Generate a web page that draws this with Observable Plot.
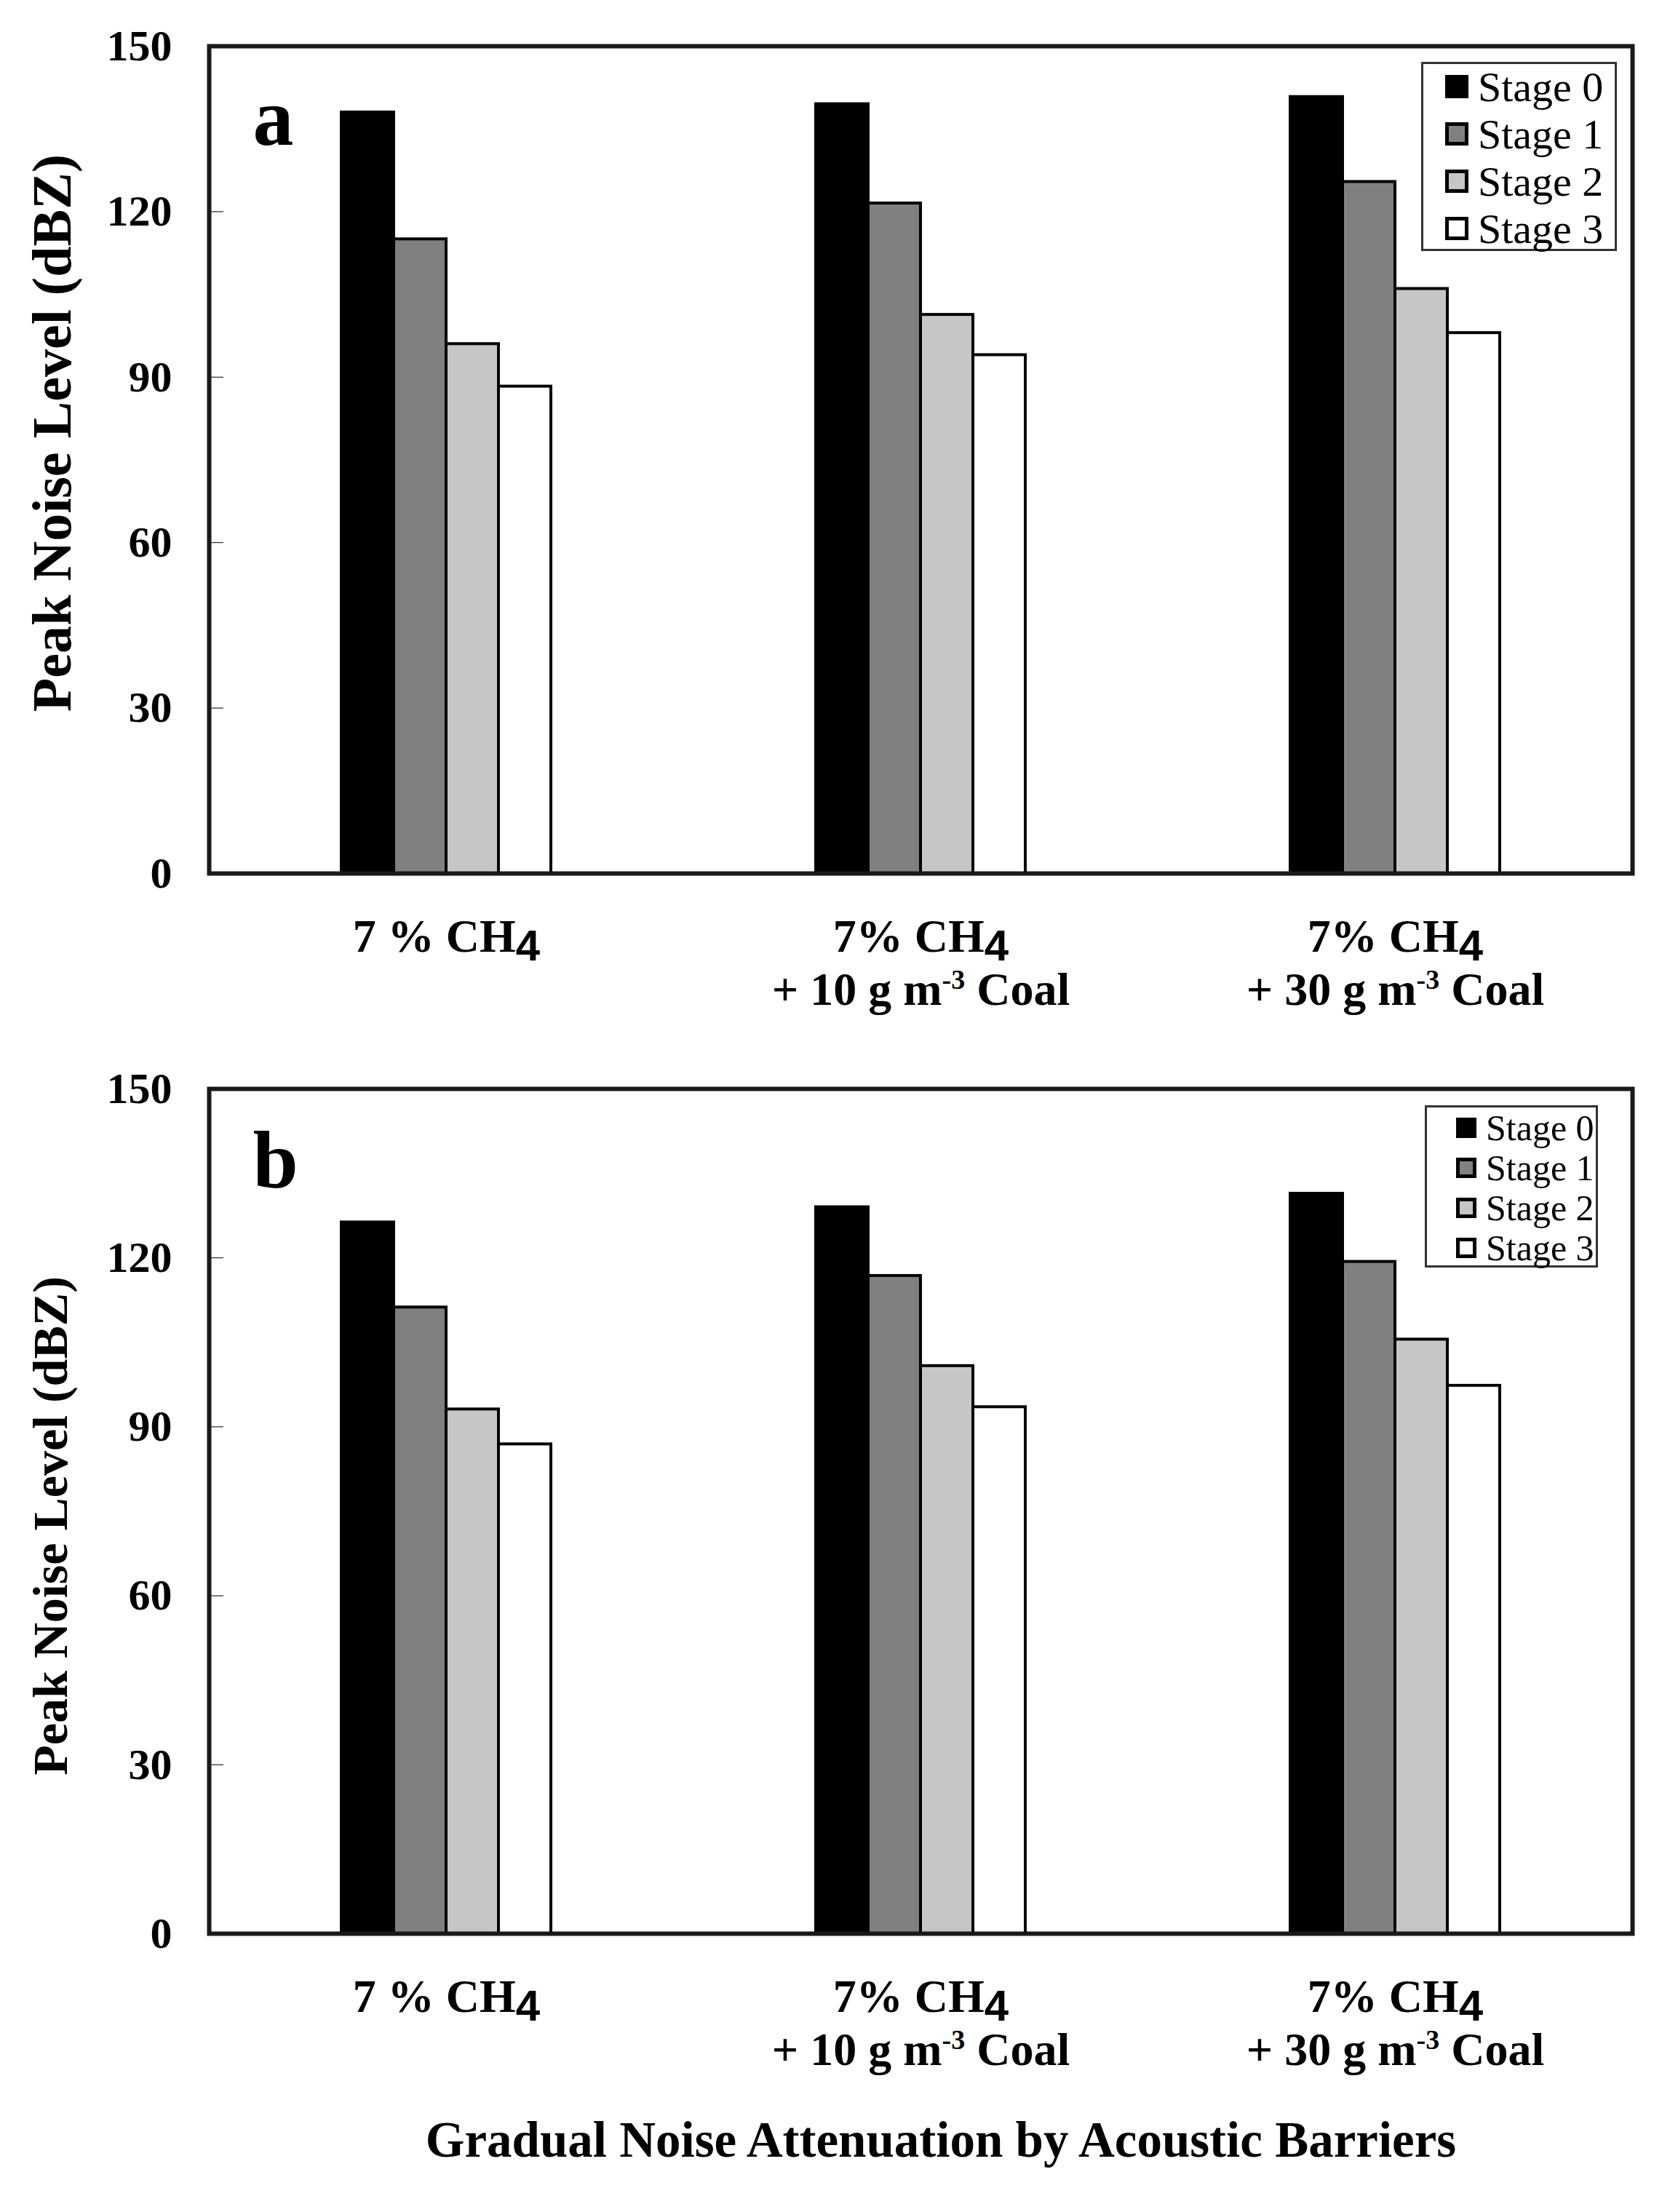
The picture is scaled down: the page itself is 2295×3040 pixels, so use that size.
<!DOCTYPE html>
<html>
<head>
<meta charset="utf-8">
<script src="https://cdn.jsdelivr.net/npm/d3@7"></script>
<script src="https://cdn.jsdelivr.net/npm/@observablehq/plot@0.6"></script>
<style>
  body { margin: 0; background: #fff; }
  #page { position: relative; width: 2295px; height: 3040px; font-family: "Liberation Serif", "Times New Roman", serif; }
  .panel { position: relative; }
  .legend { position: absolute; border: 3px solid #333; background: #fff; box-sizing: border-box; }
  .legend .row { position: absolute; display: flex; align-items: center; white-space: nowrap; }
  .legend .sw { box-sizing: border-box; border: 5px solid #000; margin-right: 13px; }
  #title { text-align: center; font-weight: bold; font-size: 69px; width: 2586px; margin-top: 44px; line-height: 80px; }
</style>
</head>
<body>
<div id="page">
  <div class="panel" id="pa"></div>
  <div class="panel" id="pb"></div>
  <div id="title">Gradual Noise Attenuation by Acoustic Barriers</div>
</div>
<script>
const stages = ["Stage 0", "Stage 1", "Stage 2", "Stage 3"];
const stageColors = ["#000000", "#808080", "#c6c6c6", "#ffffff"];
const groups = ["7 % CH4", "7% CH4 + 10 g m-3 Coal", "7% CH4 + 30 g m-3 Coal"];
// label pieces: first line (before the "4"), second line [before sup, sup, after]
const labelLine1 = ["7 % CH", "7% CH", "7% CH"];
const labelLine2 = [null, ["+ 10 g m", "-3", " Coal"], ["+ 30 g m", "-3", " Coal"]];
const yTicks = [0, 30, 60, 90, 120, 150];
const yLabel = "Peak Noise Level (dBZ)";

// peak noise level (dBZ), one row per group, one value per stage
const peakA = [
  [138.0, 115.0, 96.0, 88.3],
  [139.5, 121.5, 101.3, 94.0],
  [140.8, 125.4, 106.0, 98.0],
];
const peakB = [
  [126.3, 111.2, 93.1, 86.9],
  [129.0, 116.8, 100.8, 93.5],
  [131.4, 119.3, 105.5, 97.3],
];

const toRows = (peak) =>
  groups.flatMap((g, i) => stages.map((s, j) => ({ group: g, stage: s, value: peak[i][j] })));

function panel(sel, peak, letter, opts) {
  const plot = Plot.plot({
    width: 2295,
    height: opts.height,
    marginLeft: 287,
    marginRight: 52,
    marginTop: opts.marginTop,
    marginBottom: opts.marginBottom,
    style: {
      fontFamily: "'Liberation Serif', 'Times New Roman', serif",
      fontWeight: "bold",
      fontSize: "60px",
      color: "#000",
      background: "#fff",
    },
    fx: { domain: groups, padding: 0, axis: "bottom", tickSize: 0, tickPadding: 62, label: null, fontSize: 64 },
    x: { domain: stages, paddingInner: 0, paddingOuter: 2.5, axis: null },
    y: { domain: [0, 150], ticks: yTicks, tickSize: -20, tickPadding: 71, label: null },
    color: { domain: stages, range: stageColors },
    marks: [
      Plot.barY(toRows(peak), {
        fx: "group",
        x: "stage",
        y: "value",
        fill: "stage",
        stroke: "#000",
        strokeWidth: 4,
      }),
      Plot.text([{ g: groups[0], t: letter }], {
        fx: "g",
        text: "t",
        frameAnchor: "top-left",
        textAnchor: "start",
        dx: 60,
        dy: 56,
        fontSize: 112,
        fontWeight: "bold",
      }),
      Plot.text([{ g: groups[0], t: yLabel }], {
        fx: "g",
        text: "t",
        frameAnchor: "left",
        textAnchor: "middle",
        rotate: -90,
        lineAnchor: "top",
        dx: -244,
        dy: opts.labelDy,
        fontSize: opts.labelSize,
        fontWeight: "bold",
      }),
      Plot.frame({ facet: "super", stroke: "#1a1a1a", strokeWidth: 6 }),
    ],
  });

  // rebuild the category labels with the lowered "4" and the superscript
  d3.select(plot)
    .selectAll('g[aria-label="fx-axis tick label"] text')
    .each(function (_, i) {
      const t = d3.select(this);
      const x = t.attr("x") || 0;
      t.attr("font-size", 64);
      t.text(null);
      t.append("tspan").text(labelLine1[i]);
      t.append("tspan")
        .attr("dy", 12)
        .style("font-family", "'Liberation Sans', Arial, sans-serif")
        .attr("font-size", 60)
        .text("4");
      if (labelLine2[i]) {
        t.append("tspan").attr("x", x).attr("dy", 61).text(labelLine2[i][0]);
        t.append("tspan").attr("dy", -22).attr("font-size", 38).text(labelLine2[i][1]);
        t.append("tspan").attr("dy", 22).text(labelLine2[i][2]);
      }
    });

  const root = document.querySelector(sel);
  root.appendChild(plot);

  // legend box
  const lg = opts.legend;
  const box = document.createElement("div");
  box.className = "legend";
  Object.assign(box.style, {
    left: lg.left + "px",
    top: lg.top + "px",
    width: lg.width + "px",
    height: lg.height + "px",
    fontSize: lg.fontSize + "px",
  });
  stages.forEach((s, i) => {
    const row = document.createElement("div");
    row.className = "row";
    Object.assign(row.style, {
      left: lg.padLeft + "px",
      top: lg.firstRow + i * lg.rowStep - lg.rowStep / 2 + "px",
      height: lg.rowStep + "px",
    });
    const sw = document.createElement("span");
    sw.className = "sw";
    Object.assign(sw.style, {
      width: lg.sw + "px",
      height: lg.sw + "px",
      background: stageColors[i],
      borderWidth: i === 0 ? "0" : "5px",
    });
    const label = document.createElement("span");
    label.textContent = s;
    row.appendChild(sw);
    row.appendChild(label);
    box.appendChild(row);
  });
  root.appendChild(box);
}

panel("#pa", peakA, "a", {
  height: 1440,
  marginTop: 63,
  marginBottom: 240,
  labelSize: 76,
  labelDy: -37,
  legend: { left: 1953, top: 85, width: 269, height: 260, fontSize: 58, sw: 32, padLeft: 30, firstRow: 31, rowStep: 65 },
});
panel("#pb", peakB, "b", {
  height: 1417,
  marginTop: 56,
  marginBottom: 200,
  labelSize: 68,
  labelDy: 20,
  legend: { left: 1958, top: 79, width: 238, height: 223, fontSize: 50, sw: 28, padLeft: 40, firstRow: 28, rowStep: 55 },
});
</script>
</body>
</html>
